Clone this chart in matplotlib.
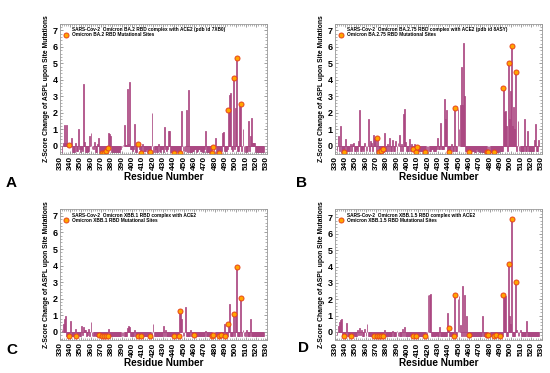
import matplotlib
matplotlib.use('Agg')
import matplotlib.pyplot as plt
from matplotlib.patches import Patch
from matplotlib.lines import Line2D

plt.rcParams['font.family'] = ['Liberation Sans', 'DejaVu Sans']
plt.rcParams['font.weight'] = 'bold'

# 残基编号 332..527
residues = list(range(332, 528))

# A: BA.2
zA = [-0.45, 0.2, 1.25, 0.2, 1.28, 0.1, 0.1, 0.05, 0.1, 0.45,
      -0.4, -0.4, -0.4, 0.2, -0.3, -0.3, 1.0, -0.2, -0.35, -0.2,
      -0.3, 3.75, 0.25, -0.4, -0.4, -0.4, -0.3, 0.6, 0.78, -0.2,
      -0.2, 0.25, -0.4, -0.4, 0.1, 0.45, -0.35, -0.35, -0.35, -0.45,
      -0.4, -0.45, -0.35, -0.3, -0.15, 0.75, 0.7, 0.6, -0.4, -0.4,
      -0.4, -0.4, -0.4, -0.4, -0.4, -0.4, -0.4, -0.2, -0.1, 0.05,
      1.25, 0.05, 0.05, 3.45, 0.1, 3.9, -0.2, -0.2, -0.3, -0.2,
      1.35, -0.35, -0.35, 0.12, 0.1, -0.2, -0.45, -0.3, 0.1, -0.3,
      -0.3, -0.3, -0.2, -0.35, -0.35, -0.4, -0.3, 2.0, -0.35, -0.35,
      -0.2, -0.35, -0.35, 0.1, -0.3, -0.35, -0.2, -0.2, -0.35, 1.15,
      -0.2, -0.3, -0.2, 0.9, 0.9, -0.4, -0.4, -0.4, -0.45, -0.4,
      -0.4, -0.3, -0.4, -0.35, -0.45, -0.4, 2.1, -0.3, -0.3, -0.3,
      2.2, -0.35, 3.4, -0.35, -0.4, -0.4, -0.3, -0.3, -0.2, -0.2,
      -0.35, -0.3, -0.2, -0.2, -0.3, -0.3, -0.35, -0.4, -0.2, 0.9,
      -0.4, -0.4, -0.4, -0.4, -0.4, -0.45, -0.05, -0.3, 0.45, -0.45,
      -0.45, -0.45, -0.45, -0.3, -0.3, 0.8, 0.85, -0.3, -0.3, -0.3,
      -0.2, 2.2, 3.1, 3.2, -0.2, -0.3, 4.1, -0.2, 2.3, 5.3,
      -0.3, -0.3, 2.4, 2.55, -0.3, 1.0, -0.35, -0.35, -0.35, -0.3,
      1.5, -0.3, 0.6, 1.7, 0.15, 0.15, 0.15, -0.4, -0.4, -0.4,
      -0.4, -0.4, -0.4, -0.4, -0.4, -0.4]
sitesA = [339, 371, 373, 375, 376, 405, 408, 417, 440, 446, 477, 478, 484, 493, 498, 501, 505]

# B: BA.2.75
zB = [-0.3, 0.6, -0.3, 1.2, -0.35, -0.35, -0.3, -0.35, 0.4, -0.3,
      -0.3, -0.3, -0.3, 0.1, -0.3, 0.1, 0.2, -0.3, -0.3, -0.2,
      -0.3, 0.3, 2.15, -0.3, -0.3, -0.2, -0.3, 0.2, -0.3, -0.3,
      1.6, -0.3, 0.3, 0.2, -0.3, 0.65, 0.5, 0.55, -0.3, 0.5,
      -0.35, -0.35, -0.35, -0.3, -0.2, -0.35, 0.8, -0.3, -0.3, 0.1,
      -0.3, 0.45, -0.3, -0.3, 0.35, -0.3, -0.3, 0.3, -0.3, 0.2,
      0.65, -0.3, 0.1, -0.3, 1.95, 2.25, 0.25, -0.3, -0.3, -0.3,
      0.4, -0.3, 0.1, -0.2, -0.3, 0.1, -0.35, -0.05, -0.3, -0.3,
      -0.3, -0.3, -0.3, -0.3, -0.3, -0.35, -0.3, -0.3, -0.3, -0.3,
      -0.3, -0.2, -0.2, -0.3, -0.3, -0.3, -0.2, 0.45, -0.2, -0.2,
      1.4, -0.2, -0.2, -0.2, 2.85, 1.6, 2.15, -0.3, -0.35, -0.3,
      -0.3, 0.1, -0.3, -0.3, 2.3, -0.3, -0.3, 2.25, 1.0, 2.45,
      4.8, 2.5, 6.25, 3.0, -0.3, -0.3, -0.3, -0.3, -0.35, -0.3,
      -0.3, -0.3, -0.3, -0.35, -0.35, -0.2, -0.3, -0.3, -0.35, -0.3,
      -0.35, -0.35, -0.35, -0.35, -0.3, -0.35, -0.35, -0.3, -0.35, -0.35,
      -0.35, -0.35, -0.35, -0.3, -0.35, -0.35, -0.35, -0.3, -0.3, -0.3,
      -0.3, 3.5, 2.05, 2.1, 1.2, -0.3, 5.05, 1.6, 3.3, 6.05,
      1.2, 2.35, 1.0, 4.5, -0.3, 1.5, -0.3, -0.3, -0.3, -0.3,
      -0.3, 1.6, -0.3, -0.3, 0.9, -0.3, -0.3, -0.3, -0.3, -0.3,
      -0.3, 0.35, 1.35, -0.3, -0.3, 0.35]
sitesB = [339, 371, 373, 375, 376, 405, 408, 409, 417, 440, 446, 460, 477, 478, 484, 493, 498, 501, 505]

# C: XBB.1
zC = [0.1, 0.45, 0.75, 0.95, -0.25, -0.25, -0.25, -0.25, 0.65, -0.25,
      -0.25, -0.25, -0.25, 0.2, -0.25, -0.25, -0.2, -0.25, -0.25, 0.35,
      -0.2, 0.3, 0.1, 0.1, -0.25, -0.2, 0.2, -0.25, 0.6, -0.25,
      -0.25, -0.2, -0.25, -0.25, -0.25, -0.25, -0.2, -0.25, -0.25, -0.25,
      -0.25, -0.25, -0.25, -0.25, -0.25, 0.15, -0.25, -0.25, -0.25, -0.25,
      -0.25, -0.25, -0.25, -0.25, -0.25, -0.25, -0.25, -0.25, -0.25, -0.25,
      -0.25, -0.25, -0.25, 0.25, 0.35, 0.3, -0.25, -0.25, -0.25, -0.25,
      0.1, -0.25, -0.25, -0.25, -0.25, -0.2, -0.25, -0.25, -0.25, -0.25,
      -0.25, -0.25, -0.25, -0.25, -0.25, -0.25, -0.25, -0.25, 0.45, -0.25,
      -0.25, -0.25, -0.25, -0.25, -0.25, -0.25, -0.25, -0.25, 0.35, -0.25,
      0.1, -0.25, -0.25, -0.25, -0.25, -0.25, -0.25, -0.25, -0.25, -0.25,
      -0.25, -0.25, -0.25, -0.25, 1.25, 1.2, 0.8, -0.25, -0.25, 1.5,
      -0.25, -0.25, -0.25, -0.25, 0.1, -0.25, -0.25, -0.25, -0.2, -0.25,
      -0.25, -0.25, -0.25, -0.25, -0.25, -0.25, -0.25, -0.25, -0.25, 0.05,
      -0.25, -0.25, -0.25, -0.25, -0.25, -0.25, -0.2, -0.25, -0.25, -0.25,
      -0.25, -0.25, -0.25, -0.25, -0.2, -0.25, -0.25, 0.5, -0.25, -0.25,
      -0.25, 0.45, 1.7, -0.25, -0.25, -0.25, 1.1, -0.25, 1.1, 3.9,
      -0.25, -0.25, -0.25, 2.05, -0.25, 0.1, -0.25, -0.25, 0.1, -0.25,
      -0.25, -0.25, 0.8, -0.25, -0.25, -0.25, -0.25, -0.25, -0.25, -0.25,
      -0.25, -0.25, -0.25, -0.25, -0.25, -0.25]
sitesC = [339, 346, 368, 371, 373, 375, 376, 405, 408, 417, 440, 445, 446, 460,
          477, 478, 484, 486, 490, 493, 498, 501, 505]

# D: XBB.1.5
zD = [-0.2, 0.35, 0.6, 0.75, 0.8, -0.25, -0.25, -0.25, -0.25, 0.55,
      -0.25, -0.25, -0.25, -0.25, -0.25, -0.25, -0.2, -0.25, -0.25, -0.25,
      0.15, -0.2, 0.25, -0.2, 0.15, -0.25, -0.25, 0.2, -0.25, 0.5,
      -0.25, -0.25, -0.25, -0.25, -0.25, -0.25, -0.25, -0.25, -0.25, -0.25,
      -0.25, -0.25, -0.25, -0.25, -0.25, -0.25, 0.1, -0.25, -0.25, -0.25,
      -0.25, -0.25, -0.25, -0.25, 0.05, -0.25, -0.25, -0.25, 0.05, -0.25,
      -0.25, -0.25, -0.25, 0.2, -0.25, 0.3, -0.25, -0.25, -0.25, -0.25,
      -0.25, -0.2, -0.25, -0.25, -0.25, -0.25, -0.25, -0.25, -0.25, -0.25,
      -0.25, -0.25, -0.25, -0.25, -0.25, -0.25, -0.25, -0.25, 2.25, 2.25,
      2.35, -0.25, -0.25, -0.25, -0.25, -0.25, -0.2, -0.25, -0.25, 0.3,
      -0.25, -0.25, -0.25, -0.25, -0.25, -0.25, -0.25, 1.15, 0.25, -0.25,
      -0.25, -0.25, -0.25, -0.25, 2.25, -0.25, -0.25, 2.0, 2.2, 0.4,
      -0.25, 2.8, -0.25, 2.25, -0.25, 1.0, -0.25, -0.25, -0.2, -0.25,
      -0.25, -0.25, -0.25, -0.25, -0.25, -0.25, -0.25, -0.25, -0.25, -0.25,
      -0.25, 1.0, -0.25, -0.25, -0.25, -0.2, -0.2, -0.25, -0.25, -0.25,
      -0.25, -0.25, -0.25, -0.25, -0.2, -0.25, -0.25, -0.25, -0.25, -0.25,
      -0.25, 2.25, 2.25, 2.2, -0.25, -0.25, 4.15, 1.0, 0.5, 6.9,
      -0.25, -0.25, -0.25, 3.05, 0.1, -0.25, -0.25, 0.1, -0.25, -0.25,
      -0.25, -0.25, -0.25, 0.7, -0.25, -0.25, -0.25, -0.25, -0.25, -0.25,
      -0.25, -0.25, -0.25, -0.25, -0.25, -0.25]
sitesD = sitesC

titles = ['SARS-Cov-2  Omicron BA.2 RBD complex with ACE2 (pdb id 7XB0)',
          'SARS-Cov-2  Omicron BA.2.75 RBD complex with ACE2 (pdb id 8ASY)',
          'SARS-Cov-2  Omicron XBB.1 RBD complex with ACE2',
          'SARS-Cov-2  Omicron XBB.1.5 RBD complex with ACE2']
site_labels = ['Omicron BA.2 RBD Mutational Sites', 'Omicron BA.2.75 RBD Mutational Sites',
               'Omicron XBB.1 RBD Mutational Sites', 'Omicron XBB.1.5 RBD Mutational Sites']
panel_letters = ['A', 'B', 'C', 'D']
ytops = [7, 7, 7, 7.5]

fig = plt.figure(figsize=(5.5, 3.73), dpi=100)
boxes = [[0.109, 0.587, 0.376, 0.349], [0.609, 0.587, 0.376, 0.349],
         [0.109, 0.088, 0.376, 0.351], [0.609, 0.088, 0.376, 0.351]]
letter_pos = [(0.02, 0.51), (0.548, 0.51), (0.022, 0.062), (0.552, 0.067)]
light = '#dca6c9'
dark = '#9e2f70'

for i, z in enumerate([zA, zB, zC, zD]):
    ax = fig.add_axes(boxes[i])
    sites = [sitesA, sitesB, sitesC, sitesD][i]
    ax.bar(residues, z, width=0.9, color=light, edgecolor=dark, linewidth=0.5)
    sy = [z[residues.index(s)] for s in sites]
    ax.plot(sites, sy, 'o', ms=3.6, mfc='#ffa500', mec='#e8441a', mew=0.7, ls='none')
    ax.set_xlim(330, 530)
    ax.set_ylim(-0.5, ytops[i])
    ax.set_xticks(range(330, 531, 10))
    ax.set_xticklabels([str(v) for v in range(330, 531, 10)], rotation=90, fontsize=6, fontweight='bold')
    ax.set_yticks(range(0, 8))
    ax.set_yticklabels([str(v) for v in range(0, 8)], fontsize=6.5, fontweight='bold')
    ax.set_xticks(range(330, 531, 2), minor=True)
    ax.set_yticks([v * 0.2 for v in range(-2, 38)], minor=True)
    ax.tick_params(which='both', direction='in', top=True, right=True, color='#777777', pad=1.5)
    ax.tick_params(which='major', length=2.5, width=0.5)
    ax.tick_params(which='minor', length=1.2, width=0.4)
    for sp in ax.spines.values():
        sp.set_color('#999999')
        sp.set_linewidth(0.6)
    ax.set_xlabel('Residue Number', fontsize=7.2, fontweight='bold', labelpad=1)
    ax.set_ylabel('Z-Score Change of ASPL upon Site Mutations', fontsize=4.9, fontweight='bold', labelpad=2)
    h1 = Patch(facecolor='none', edgecolor='none')
    h2 = Line2D([], [], marker='o', ms=3.6, mfc='#ffa500', mec='#e8441a', mew=0.7, ls='none')
    leg = ax.legend([h1, h2], [titles[i], site_labels[i]], loc='upper left', frameon=False,
                    handlelength=1.2, handletextpad=0.6, borderaxespad=0.3,
                    labelspacing=0.05, prop={'weight': 'bold', 'size': 3.4})
    fig.text(letter_pos[i][0], letter_pos[i][1], panel_letters[i], fontsize=11, fontweight='bold',
             ha='center', va='center')

fig.savefig('out.png', dpi=100)
